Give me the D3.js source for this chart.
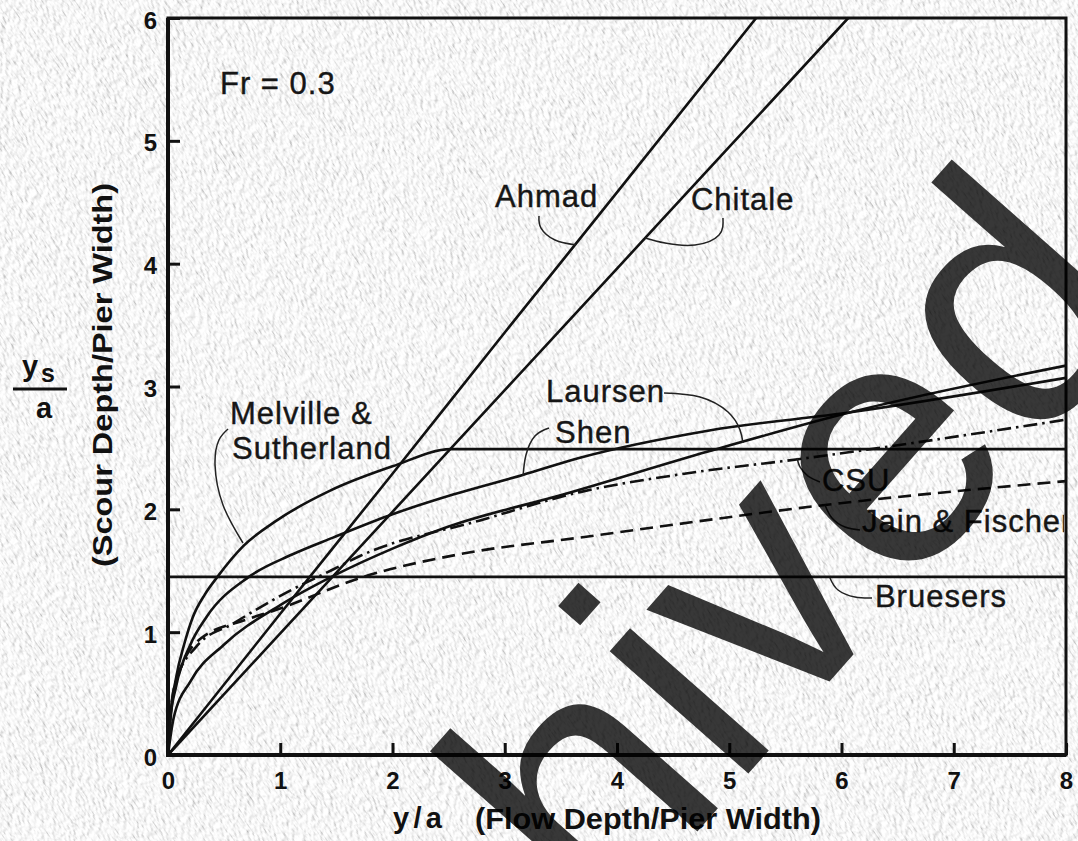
<!DOCTYPE html>
<html>
<head>
<meta charset="utf-8">
<script src="https://cdnjs.cloudflare.com/ajax/libs/d3/7.8.5/d3.min.js"></script>
<style>
  body { margin: 0; background: #efefef; overflow: hidden; }
  .tick text { font-family: "Liberation Sans", Arial, sans-serif; font-weight: bold; font-size: 24px; fill: #111; }
  .tick line { stroke: #111; stroke-width: 3; }
  .lbl { font-family: "Liberation Sans", Arial, sans-serif; font-size: 31px; letter-spacing: 1px; fill: #161616; stroke: #161616; stroke-width: 0.4; }
  .ttl { font-family: "Liberation Sans", Arial, sans-serif; font-weight: bold; fill: #111; }
</style>
</head>
<body>
<div class="chart"></div>
<script>
// Scour depth vs flow depth, Fr = 0.3
var svgWidth = 1078;
var svgHeight = 841;
var margin = {top: 18, right: 12, bottom: 86, left: 168};
var width = svgWidth - margin.left - margin.right;
var height = svgHeight - margin.top - margin.bottom;

// axis ticks
var xTicks = [0, 1, 2, 3, 4, 5, 6, 7, 8];
var yTicks = [0, 1, 2, 3, 4, 5, 6];

// curves: [y/a, ys/a]
var ahmad = [[0, 0], [1, 1.15], [2, 2.29], [3, 3.44], [4, 4.58], [5.24, 6]];
var chitale = [[0, 0], [1, 0.99], [2, 1.98], [3, 2.97], [4, 3.96], [5, 4.95], [6.06, 6]];
var melville = [[0, 0], [0.02, 0.3], [0.07, 0.62], [0.15, 0.92], [0.22, 1.12], [0.33, 1.31], [0.44, 1.45],
  [0.67, 1.7], [0.97, 1.91], [1.44, 2.15], [2.0, 2.35], [2.52, 2.49], [8, 2.49]];
var shen = [[0, 0], [0.02, 0.28], [0.07, 0.55], [0.2, 0.9], [0.34, 1.12], [0.72, 1.45], [1.1, 1.63],
  [1.47, 1.77], [2.0, 1.96], [2.54, 2.12], [3.16, 2.28], [3.67, 2.42], [4.81, 2.64], [6.08, 2.79], [8, 3.07]];
var laursen = [[0, 0], [0.05, 0.3], [0.2, 0.6], [0.5, 0.9], [1.0, 1.22], [1.5, 1.47], [2.0, 1.68],
  [2.5, 1.86], [3.52, 2.12], [4.81, 2.47], [6.08, 2.79], [8, 3.17]];
var csu = [[0, 0], [0.02, 0.3], [0.07, 0.6], [0.25, 0.88], [0.58, 1.07], [1.05, 1.32], [1.47, 1.51],
  [1.71, 1.62], [2.78, 1.91], [3.67, 2.14], [4.6, 2.29], [5.63, 2.41], [8, 2.73]];
var jain = [[0, 0], [0.02, 0.28], [0.07, 0.58], [0.28, 0.94], [0.69, 1.1], [0.96, 1.18], [1.74, 1.45],
  [2.63, 1.64], [3.67, 1.77], [5.99, 2.05], [8, 2.23]];
var bruesers = [[0, 1.45], [8, 1.45]];

// curve labels, anchored in data units
var labelText = ["Ahmad", "Chitale", "Melville &", "Sutherland", "Laursen", "Shen", "CSU", "Jain & Fischer", "Bruesers"];
var labelX = [2.913, 4.659, 0.552, 0.570, 3.367, 3.448, 5.826, 6.183, 6.298];
var labelY = [4.461, 4.437, 2.695, 2.410, 2.874, 2.540, 2.149, 1.815, 1.205];

// leader lines from label to curve
var leaders = [
  [[3.305, 4.388], [3.323, 4.290], [3.448, 4.193], [3.635, 4.152]],
  [[4.944, 4.372], [4.909, 4.233], [4.695, 4.152], [4.428, 4.168], [4.249, 4.209]],
  [[0.535, 2.654], [0.454, 2.564], [0.419, 2.361], [0.490, 2.035], [0.668, 1.726]],
  [[4.419, 2.947], [4.739, 2.915], [4.989, 2.792], [5.096, 2.646], [5.122, 2.540]],
  [[3.394, 2.662], [3.269, 2.597], [3.189, 2.442], [3.163, 2.271]],
  [[5.808, 2.223], [5.702, 2.271], [5.630, 2.345], [5.604, 2.418]],
  [[6.165, 1.832], [6.031, 1.856], [5.915, 1.929], [5.853, 2.035]],
  [[6.272, 1.278], [6.120, 1.286], [5.969, 1.343], [5.897, 1.441]]
];

var svg = d3.select(".chart")
  .append("svg")
  .attr("width", svgWidth)
  .attr("height", svgHeight);

// paper texture
var defs = svg.append("defs");
var paper = defs.append("filter").attr("id", "paper");
paper.append("feTurbulence")
  .attr("type", "fractalNoise")
  .attr("baseFrequency", "0.45 0.16")
  .attr("numOctaves", 3)
  .attr("seed", 7)
  .attr("result", "noise");
paper.append("feDiffuseLighting")
  .attr("in", "noise")
  .attr("lighting-color", "#ffffff")
  .attr("surfaceScale", 1.9)
  .attr("diffuseConstant", 1.05)
  .append("feDistantLight")
  .attr("azimuth", 235)
  .attr("elevation", 67);

svg.append("g")
  .attr("transform", "rotate(-35," + svgWidth / 2 + "," + svgHeight / 2 + ")")
  .append("rect")
  .attr("x", -700).attr("y", -700)
  .attr("width", svgWidth + 1400).attr("height", svgHeight + 1400)
  .attr("filter", "url(#paper)");

defs.append("clipPath").attr("id", "plotClip")
  .append("rect").attr("width", width).attr("height", height);
defs.append("clipPath").attr("id", "textClip")
  .append("rect").attr("x", -margin.left).attr("width", margin.left + width - 2).attr("height", height);

var chartGroup = svg.append("g")
  .attr("transform", `translate(${margin.left}, ${margin.top})`);

var xLinearScale = d3.scaleLinear().domain([0, 8]).range([0, width]);
var yLinearScale = d3.scaleLinear().domain([0, 6]).range([height, 0]);

// axes, ticks point inwards
var bottomAxis = d3.axisBottom(xLinearScale)
  .tickValues(xTicks)
  .tickSizeInner(-12)
  .tickSizeOuter(0)
  .tickPadding(17)
  .tickFormat(d3.format("d"));
var leftAxis = d3.axisLeft(yLinearScale)
  .tickValues(yTicks)
  .tickSizeInner(-12)
  .tickSizeOuter(0)
  .tickPadding(11)
  .tickFormat(d3.format("d"));

var xAxis = chartGroup.append("g")
  .attr("transform", `translate(0, ${height})`)
  .call(bottomAxis);
var yAxis = chartGroup.append("g")
  .call(leftAxis);
xAxis.select(".domain").remove();
yAxis.select(".domain").remove();
yAxis.selectAll(".tick text").attr("dy", "0.42em");

// frame: top and right a bit lighter than the axes
chartGroup.append("rect")
  .attr("width", width)
  .attr("height", height)
  .attr("fill", "none")
  .attr("stroke", "#111")
  .attr("stroke-width", 3);
chartGroup.append("path")
  .attr("d", d3.line()([[0, 0], [0, height], [width, height]]))
  .attr("fill", "none")
  .attr("stroke", "#111")
  .attr("stroke-width", 4);

var line = d3.line()
  .x(d => xLinearScale(d[0]))
  .y(d => yLinearScale(d[1]))
  .curve(d3.curveMonotoneX);

var curves = chartGroup.append("g").attr("clip-path", "url(#plotClip)");
var solid = [ahmad, chitale, melville, shen, laursen, bruesers];
curves.selectAll(".solid")
  .data(solid)
  .enter()
  .append("path")
  .attr("class", "solid")
  .attr("d", line)
  .attr("fill", "none")
  .attr("stroke", "#111")
  .attr("stroke-width", 2.6);

curves.append("path")
  .datum(csu)
  .attr("d", line)
  .attr("fill", "none")
  .attr("stroke", "#111")
  .attr("stroke-width", 2.6)
  .attr("stroke-dasharray", "14,5,2.5,5");

curves.append("path")
  .datum(jain)
  .attr("d", line)
  .attr("fill", "none")
  .attr("stroke", "#111")
  .attr("stroke-width", 2.6)
  .attr("stroke-dasharray", "13,7");

// leaders
var leaderLine = d3.line()
  .x(d => xLinearScale(d[0]))
  .y(d => yLinearScale(d[1]))
  .curve(d3.curveNatural);

chartGroup.selectAll(".leader")
  .data(leaders)
  .enter()
  .append("path")
  .attr("class", "leader")
  .attr("d", leaderLine)
  .attr("fill", "none")
  .attr("stroke", "#222")
  .attr("stroke-width", 1.5);

// curve labels
chartGroup.append("g")
  .attr("clip-path", "url(#textClip)")
  .selectAll(".lbl")
  .data(labelText)
  .enter()
  .append("text")
  .attr("class", "lbl")
  .attr("x", (d, i) => xLinearScale(labelX[i]))
  .attr("y", (d, i) => yLinearScale(labelY[i]))
  .attr("letter-spacing", d => d == "Jain & Fischer" ? 0.4 : null)
  .text(d => d);

chartGroup.append("text")
  .attr("class", "lbl")
  .attr("x", xLinearScale(0.463))
  .attr("y", yLinearScale(5.381))
  .text("Fr = 0.3");

// axis titles
svg.append("text")
  .attr("class", "ttl")
  .attr("x", 393)
  .attr("y", 828)
  .attr("font-size", 29)
  .attr("textLength", 49)
  .text("y/a");
svg.append("text")
  .attr("class", "ttl")
  .attr("x", 475)
  .attr("y", 829)
  .attr("font-size", 29)
  .attr("textLength", 346)
  .attr("lengthAdjust", "spacingAndGlyphs")
  .text("(Flow Depth/Pier Width)");

svg.append("text")
  .attr("class", "ttl")
  .attr("transform", "translate(112, 375) rotate(-90)")
  .attr("text-anchor", "middle")
  .attr("font-size", 28)
  .attr("textLength", 384)
  .attr("lengthAdjust", "spacingAndGlyphs")
  .text("(Scour Depth/Pier Width)");

var frac = svg.append("g").attr("class", "ttl");
frac.append("text").attr("x", 22).attr("y", 376).attr("font-size", 29).text("y");
frac.append("text").attr("x", 41).attr("y", 382).attr("font-size", 25).text("s");
frac.append("line")
  .attr("x1", 13).attr("x2", 67)
  .attr("y1", 389).attr("y2", 389)
  .attr("stroke", "#111")
  .attr("stroke-width", 3);
frac.append("text").attr("x", 44).attr("y", 418).attr("font-size", 29)
  .attr("text-anchor", "middle").text("a");

// watermark
svg.append("text")
  .attr("transform", "translate(257, 1331) rotate(-48.6)")
  .attr("font-family", "Liberation Sans, Arial, sans-serif")
  .attr("font-size", 350)
  .attr("fill", "#000")
  .attr("fill-opacity", 0.78)
  .text("Archived");
</script>
</body>
</html>
